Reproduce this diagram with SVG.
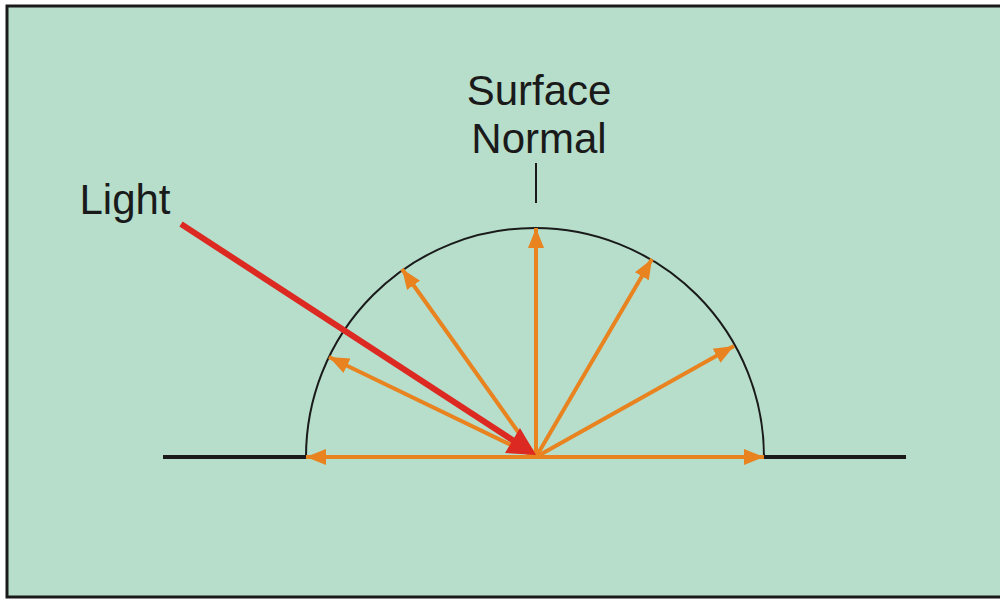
<svg xmlns="http://www.w3.org/2000/svg" width="1000" height="599" viewBox="0 0 1000 599">
<style>
.lbl{font-family:"Liberation Sans",Arial,sans-serif;font-size:42px;fill:#1a1a1a;text-anchor:middle}
.ray{stroke:#E8831F;stroke-width:4;fill:none;marker-end:url(#oh)}
</style>
<defs>
<marker id="oh" markerUnits="userSpaceOnUse" markerWidth="22" markerHeight="18" refX="20" refY="8" orient="auto" viewBox="0 0 22 16">
<path d="M0,0 L20,8 L0,16 Z" fill="#E8831F"/>
</marker>
</defs>
<rect x="7" y="6" width="1000" height="591" fill="#B6DECB" stroke="#1a1a1a" stroke-width="3"/>
<g id="surface">
<line x1="163" y1="457" x2="306" y2="457" stroke="#1a1a1a" stroke-width="4"/>
<line x1="764" y1="457" x2="906" y2="457" stroke="#1a1a1a" stroke-width="4"/>
<path d="M306,457 A229,229 0 0 1 764,457" fill="none" stroke="#1a1a1a" stroke-width="2"/>
</g>
<g id="normal-label">
<text class="lbl" x="539" y="105">Surface</text>
<text class="lbl" x="539" y="153">Normal</text>
<line x1="536" y1="163" x2="536" y2="203" stroke="#1a1a1a" stroke-width="2"/>
</g>
<g id="light-label">
<text class="lbl" x="125" y="214">Light</text>
</g>
<g id="connectors">
<line class="ray" x1="536" y1="457" x2="306" y2="457"/>
<line class="ray" x1="536" y1="457" x2="764" y2="457"/>
<line class="ray" x1="536" y1="457" x2="536" y2="228"/>
<line class="ray" x1="536" y1="457" x2="402" y2="269"/>
<line class="ray" x1="536" y1="457" x2="329" y2="357"/>
<line class="ray" x1="536" y1="457" x2="652" y2="259"/>
<line class="ray" x1="536" y1="457" x2="734" y2="346"/>
<line x1="181" y1="224" x2="514" y2="441" stroke="#DC2A22" stroke-width="6"/>
<polygon points="536,455 505,453 520,428" fill="#DC2A22"/>
</g>
</svg>
